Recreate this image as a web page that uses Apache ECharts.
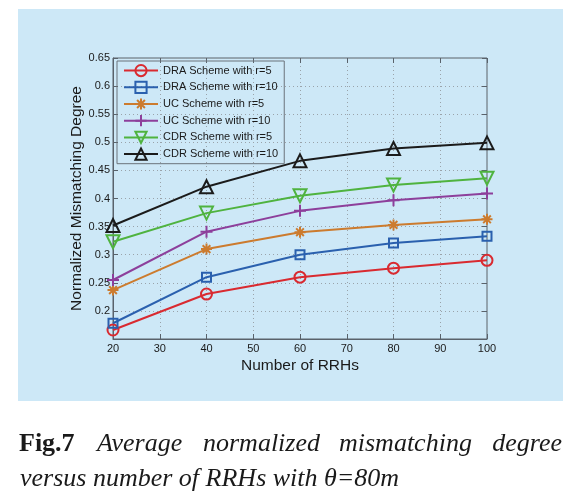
<!DOCTYPE html>
<html>
<head>
<meta charset="utf-8">
<script src="https://cdn.jsdelivr.net/npm/echarts@6/dist/echarts.min.js"></script>
<style>
html,body{margin:0;padding:0;background:#fff;}
#chart{width:583px;height:502px;}
</style>
</head>
<body>
<div id="chart"></div>
<script>
var xValues = [20, 40, 60, 80, 100];
var draR5  = [0.166, 0.230, 0.260, 0.276, 0.290];
var draR10 = [0.178, 0.260, 0.300, 0.321, 0.333];
var ucR5   = [0.237, 0.310, 0.340, 0.353, 0.363];
var ucR10  = [0.255, 0.341, 0.378, 0.397, 0.409];
var cdrR5  = [0.323, 0.374, 0.405, 0.424, 0.436];
var cdrR10 = [0.352, 0.421, 0.467, 0.489, 0.499];
var seriesNames = ['DRA Scheme with r=5','DRA Scheme with r=10','UC Scheme with r=5','UC Scheme with r=10','CDR Scheme with r=5','CDR Scheme with r=10'];
var xAxisTitle = 'Number of RRHs';
var yAxisTitle = 'Normalized Mismatching Degree';

var colors = ['#d92a30','#2a60ae','#cc7b2e','#8d3f9b','#4fb33f','#1b1b1b'];
var symbols = [
  'circle',
  'rect',
  'path://M5,0 L5,10 M0,5 L10,5 M1.5,1.5 L8.5,8.5 M8.5,1.5 L1.5,8.5',
  'path://M5,0 L5,10 M0,5 L10,5',
  'path://M0,0 L10,0 L5,9 Z',
  'triangle'
];
var sizes = [11, 9, 11, 12, 13, 13];
var allData = [draR5, draR10, ucR5, ucR10, cdrR5, cdrR10];

function pairs(arr){ return xValues.map(function(x,i){ return [x, arr[i]]; }); }

var series = allData.map(function(arr, k){
  return {
    name: seriesNames[k],
    type: 'line',
    data: pairs(arr),
    symbol: symbols[k],
    symbolSize: sizes[k],
    showAllSymbol: true,
    lineStyle: {color: colors[k], width: 2},
    itemStyle: {color: 'rgba(0,0,0,0)', borderColor: colors[k], borderWidth: 2},
    emphasis: {disabled: true},
    z: 3 + k
  };
});

var chart = echarts.init(document.getElementById('chart'), null, {renderer: 'canvas'});
var axisColor = '#59626b';
var gridLine = {show: true, lineStyle: {color: '#9aa3aa', type: [1, 3], width: 1}};
var serif = '"Liberation Serif", "Times New Roman", serif';

chart.setOption({
  animation: false,
  backgroundColor: '#ffffff',
  color: colors,
  graphic: [
    {type: 'rect', shape: {x: 18, y: 9, width: 545, height: 392}, style: {fill: '#cde8f7'}, z: -10, silent: true},
    {type: 'text', left: 19, top: 431, style: {text: 'Fig.7', font: 'bold 26px ' + serif, fill: '#1a1a1a'}},
    {type: 'text', left: 97, top: 431, style: {text: 'Average', font: 'italic 26px ' + serif, fill: '#1a1a1a'}},
    {type: 'text', left: 203, top: 431, style: {text: 'normalized', font: 'italic 26px ' + serif, fill: '#1a1a1a'}},
    {type: 'text', left: 339, top: 431, style: {text: 'mismatching', font: 'italic 26px ' + serif, fill: '#1a1a1a'}},
    {type: 'text', right: 21, top: 431, style: {text: 'degree', font: 'italic 26px ' + serif, fill: '#1a1a1a'}},
    {type: 'text', left: 20, top: 466, style: {text: 'versus number of RRHs with \u03b8=80m', font: 'italic 26px ' + serif, fill: '#1a1a1a'}}
  ],
  grid: {left: 113, top: 58, right: 96, bottom: 163, show: true, borderColor: axisColor, borderWidth: 1, backgroundColor: 'transparent'},
  legend: {
    left: 117, top: 61, orient: 'vertical',
    padding: [3, 6], itemGap: 3.5, itemWidth: 34, itemHeight: 14,
    borderColor: '#6b737a', borderWidth: 1, backgroundColor: 'transparent',
    textStyle: {fontFamily: 'Liberation Sans, Arial, sans-serif', fontSize: 11, color: '#1a1a1a'},
    data: seriesNames
  },
  xAxis: [
    {type: 'value', min: 20, max: 100, interval: 10,
     name: xAxisTitle, nameLocation: 'middle', nameGap: 19, nameMoveOverlap: false,
     nameTextStyle: {fontFamily: 'Liberation Sans, Arial, sans-serif', fontSize: 15.5, color: '#1a1a1a'},
     axisLine: {show: true, lineStyle: {color: axisColor}},
     axisTick: {show: true, inside: true, length: 5, lineStyle: {color: axisColor}},
     axisLabel: {fontFamily: 'Liberation Sans, Arial, sans-serif', fontSize: 11, color: '#1a1a1a', margin: 4},
     splitLine: gridLine},
    {type: 'value', min: 20, max: 100, interval: 10, position: 'top',
     axisLine: {show: false}, axisTick: {show: true, inside: true, length: 5, lineStyle: {color: axisColor}},
     axisLabel: {show: false}, splitLine: {show: false}}
  ],
  yAxis: [
    {type: 'value', min: 0.15, max: 0.65, interval: 0.05,
     name: yAxisTitle, nameLocation: 'middle', nameGap: 28, nameMoveOverlap: false,
     nameTextStyle: {fontFamily: 'Liberation Sans, Arial, sans-serif', fontSize: 15.5, color: '#1a1a1a'},
     axisLine: {show: true, lineStyle: {color: axisColor}},
     axisTick: {show: true, inside: true, length: 5, lineStyle: {color: axisColor}},
     axisLabel: {fontFamily: 'Liberation Sans, Arial, sans-serif', fontSize: 11, color: '#1a1a1a', margin: 3, showMinLabel: false,
                 formatter: function(v){ return String(Math.round(v*100)/100); }},
     splitLine: gridLine},
    {type: 'value', min: 0.15, max: 0.65, interval: 0.05, position: 'right',
     axisLine: {show: false}, axisTick: {show: true, inside: true, length: 5, lineStyle: {color: axisColor}},
     axisLabel: {show: false}, splitLine: {show: false}}
  ],
  series: series
});
</script>
</body>
</html>
